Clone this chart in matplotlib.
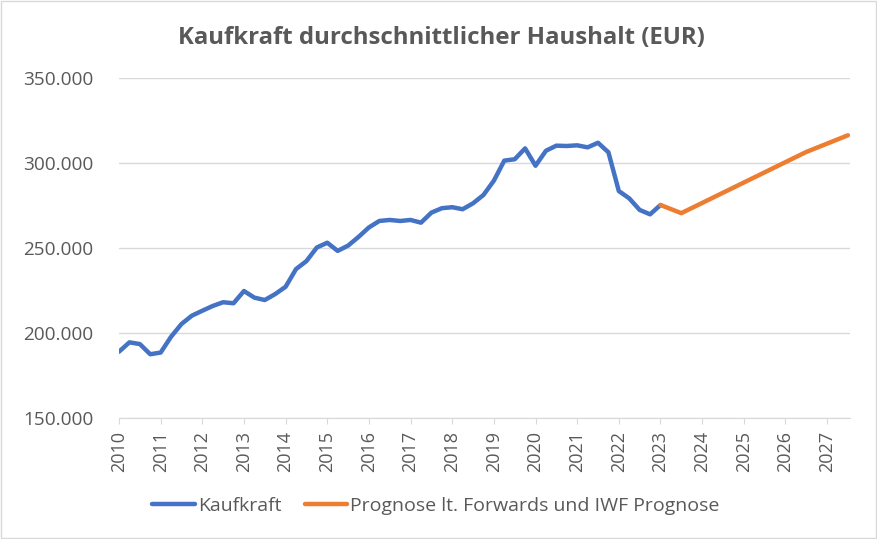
import matplotlib.pyplot as plt
from matplotlib.patches import Rectangle
from matplotlib.ticker import FuncFormatter

# Kaufkraft, quarterly from 2010 Q1 to 2023 Q1 (thousand EUR)
kaufkraft_start = 2010.0
kaufkraft = [
    189.0, 194.5, 193.5, 187.5,
    188.5, 197.8, 205.3, 210.2,
    213.1, 215.9, 218.1, 217.5,
    224.7, 220.8, 219.4, 222.9,
    227.2, 237.6, 242.3, 250.3,
    253.1, 248.3, 251.4, 256.5,
    262.1, 265.9, 266.5, 265.9,
    266.5, 264.9, 270.8, 273.4,
    274.0, 272.8, 276.3, 281.2,
    289.6, 301.4, 302.2, 308.6,
    298.4, 307.2, 310.2, 310.0,
    310.4, 309.2, 311.9, 306.3,
    283.5, 279.2, 272.4, 269.8,
    275.3,
]

# Prognose
prognose_years = [2023.0, 2023.5, 2024.5, 2025.5, 2026.5, 2027.5]
prognose = [275.3, 270.5, 282.5, 294.5, 306.5, 316.3]

years = list(range(2010, 2028))
kaufkraft_x = [kaufkraft_start + 0.25 * i for i in range(len(kaufkraft))]

grey = '#595959'
plt.rcParams['font.family'] = ['Open Sans', 'DejaVu Sans']

fig = plt.figure(figsize=(8.77, 5.39), dpi=100)
ax = fig.add_axes([119 / 877, 1 - 418 / 539, (850 - 119) / 877, (418 - 78) / 539])

ax.plot(kaufkraft_x, [v * 1000 for v in kaufkraft], color='#4472C4', lw=3.2,
        solid_capstyle='round', solid_joinstyle='round', label='Kaufkraft')
ax.plot(prognose_years, [v * 1000 for v in prognose], color='#ED7D31', lw=3.2,
        solid_capstyle='round', solid_joinstyle='round',
        label='Prognose lt. Forwards und IWF Prognose')

ax.set_xlim(2010, 2027.55)
ax.set_ylim(150000, 350000)
ax.set_yticks([150000, 200000, 250000, 300000, 350000])
ax.yaxis.set_major_formatter(FuncFormatter(lambda v, p: f'{v:,.0f}'.replace(',', '.')))
ax.set_xticks(years)
ax.set_xticklabels([str(y) for y in years], rotation=90)

ax.grid(axis='y', color='#D9D9D9', lw=1)
ax.set_axisbelow(True)
for s in ['top', 'right', 'left']:
    ax.spines[s].set_visible(False)
ax.spines['bottom'].set_color('#D9D9D9')
ax.tick_params(axis='y', length=0, labelsize=13.7, labelcolor=grey, pad=18.5)
ax.tick_params(axis='x', length=4.5, color='#D9D9D9', labelsize=13, labelcolor=grey, pad=5)

fig.suptitle('Kaufkraft durchschnittlicher Haushalt (EUR)', x=0.503, y=1 - 38 / 539,
             va='center', fontsize=17.3, fontweight='bold', color=grey)

fig.legend(loc='center', bbox_to_anchor=(0.497, 1 - 506 / 539), ncol=2, frameon=False,
           fontsize=14, labelcolor=grey, handlelength=2.2, handletextpad=0.15,
           columnspacing=1.2)

fig.patches.append(Rectangle((0.001, 0.001), 0.998, 0.997, transform=fig.transFigure,
                             fill=False, edgecolor='#D9D9D9', lw=1))

fig.savefig('out.png', dpi=100)
